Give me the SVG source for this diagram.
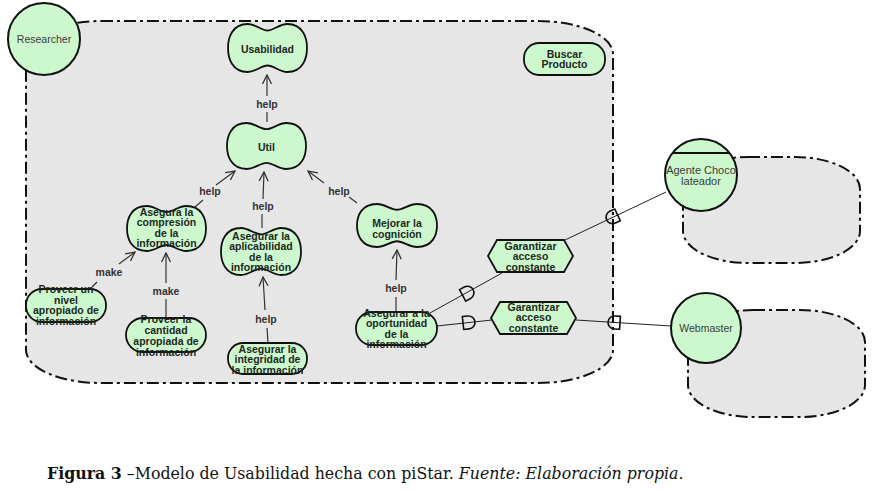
<svg xmlns="http://www.w3.org/2000/svg" xmlns:xlink="http://www.w3.org/1999/xlink" width="878" height="491" viewBox="0 0 878 491">
<style>
.bnd{fill:#e6e6e6;stroke:#111;stroke-width:2;stroke-dasharray:12 4 3 4}
.node{fill:#cdf8cd;stroke:#111;stroke-width:1.8}
.actor{fill:#cdf8cd;stroke:#111;stroke-width:2}
.t{font-family:"Liberation Sans",Arial,sans-serif;font-size:10.5px;font-weight:bold;fill:#1e261e;text-anchor:middle}
.at{font-family:"Liberation Sans",Arial,sans-serif;font-size:10.5px;fill:#3a3a3a;text-anchor:middle}
.lbl{font-family:"Liberation Sans",Arial,sans-serif;font-size:10.5px;font-weight:bold;fill:#333;text-anchor:middle}
.ln{fill:none;stroke:#333;stroke-width:1.2}
.dl{fill:none;stroke:#222;stroke-width:1}
.dm{fill:none;stroke:#111;stroke-width:1.6}
.cap{font-family:"DejaVu Serif","Liberation Serif",serif;font-size:15.8px;fill:#111}
</style>
<defs>
<marker id="arr" viewBox="0 0 12 12" refX="11" refY="6" markerWidth="12" markerHeight="12" markerUnits="userSpaceOnUse" orient="auto">
<path d="M2,1.5 L11,6 L2,10.5" fill="none" stroke="#333" stroke-width="1.3"/>
</marker>
<path id="dep" d="M-5,-6.5 H0.5 A6.5,6.5 0 0 1 0.5,6.5 H-5 Z"/>
</defs>
<rect width="878" height="491" fill="#fff"/>

<g id="boundaries">
<rect class="bnd" x="26" y="21" width="587" height="362" rx="75" ry="33"/>
<rect class="bnd" x="683" y="157" width="177" height="106" rx="65" ry="32"/>
<rect class="bnd" x="688" y="310" width="177" height="107" rx="65" ry="32"/>
</g>

<g id="connectors">
<line class="ln" x1="267" y1="122" x2="267" y2="112"/>
<line class="ln" x1="267" y1="96" x2="267" y2="75" marker-end="url(#arr)"/>
<text class="lbl" x="267" y="108">help</text>

<line class="ln" x1="195" y1="207" x2="203" y2="200"/>
<line class="ln" x1="216" y1="185" x2="235" y2="171" marker-end="url(#arr)"/>
<text class="lbl" x="210" y="195">help</text>

<line class="ln" x1="262" y1="228" x2="262" y2="214"/>
<line class="ln" x1="263" y1="199" x2="264" y2="172" marker-end="url(#arr)"/>
<text class="lbl" x="263" y="210">help</text>

<line class="ln" x1="357" y1="203" x2="349" y2="197"/>
<line class="ln" x1="324" y1="183" x2="308" y2="171" marker-end="url(#arr)"/>
<text class="lbl" x="339" y="195">help</text>

<line class="ln" x1="92" y1="287" x2="97" y2="282"/>
<line class="ln" x1="119" y1="264" x2="135" y2="252" marker-end="url(#arr)"/>
<text class="lbl" x="109" y="276">make</text>

<line class="ln" x1="166" y1="318" x2="166" y2="299"/>
<line class="ln" x1="166" y1="283" x2="166" y2="253" marker-end="url(#arr)"/>
<text class="lbl" x="166" y="295">make</text>

<line class="ln" x1="268" y1="343" x2="267" y2="328"/>
<line class="ln" x1="265" y1="310" x2="263" y2="277" marker-end="url(#arr)"/>
<text class="lbl" x="266" y="323">help</text>

<line class="ln" x1="396" y1="312" x2="396" y2="297"/>
<line class="ln" x1="396" y1="280" x2="397" y2="250" marker-end="url(#arr)"/>
<text class="lbl" x="396" y="292">help</text>

<line class="dl" x1="430" y1="313" x2="502" y2="273"/>
<use xlink:href="#dep" class="dm" transform="translate(467,293) rotate(-28.4)"/>
<line class="dl" x1="565" y1="240" x2="666" y2="192"/>
<use xlink:href="#dep" class="dm" transform="translate(613,217) rotate(154.6)"/>
<line class="dl" x1="437" y1="326" x2="492" y2="320"/>
<use xlink:href="#dep" class="dm" transform="translate(468,322.5) rotate(-6)"/>
<line class="dl" x1="576" y1="320" x2="671" y2="326"/>
<use xlink:href="#dep" class="dm" transform="translate(615,322.5) rotate(183.6)"/>
</g>

<g id="researcher">
<circle class="actor" cx="44" cy="39" r="36"/>
<text class="at" x="44" y="42.5">Researcher</text>
</g>

<g id="usabilidad">
<path class="node" d="M247.75,24 C255.65,24 261.18,30.5 267.5,30.5 C273.82,30.5 279.35,24 287.25,24 C303.05,24 307,38 307,48 C307,58 303.05,72 287.25,72 C279.35,72 273.82,65.5 267.5,65.5 C261.18,65.5 255.65,72 247.75,72 C231.95,72 228,58 228,48 C228,38 231.95,24 247.75,24 Z"/>
<text class="t" x="267.5" y="52.5">Usabilidad</text>
</g>

<g id="util">
<path class="node" d="M246.75,123 C254.65,123 260.18,129.2 266.5,129.2 C272.82,129.2 278.35,123 286.25,123 C302.05,123 306,136.4 306,146 C306,155.6 302.05,169 286.25,169 C278.35,169 272.82,162.8 266.5,162.8 C260.18,162.8 254.65,169 246.75,169 C230.95,169 227,155.6 227,146 C227,136.4 230.95,123 246.75,123 Z"/>
<text class="t" x="266.5" y="150.5">Util</text>
</g>

<g id="buscar-producto">
<rect class="node" x="524" y="43" width="81" height="32" rx="15" ry="15"/>
<text class="t" x="564.5" y="57.5">Buscar</text>
<text class="t" x="564.5" y="68">Producto</text>
</g>

<g id="asegura-compresion">
<path class="node" d="M146.75,206 C154.65,206 160.18,212 166.5,212 C172.82,212 178.35,206 186.25,206 C202.05,206 206,219.1 206,228.5 C206,237.9 202.05,251 186.25,251 C178.35,251 172.82,245 166.5,245 C160.18,245 154.65,251 146.75,251 C130.95,251 127,237.9 127,228.5 C127,219.1 130.95,206 146.75,206 Z"/>
<text class="t" x="166.5" y="215.5">Asegura la</text>
<text class="t" x="166.5" y="226">compresión</text>
<text class="t" x="166.5" y="236.5">de la</text>
<text class="t" x="166.5" y="247">información</text>
</g>

<g id="asegurar-aplicabilidad">
<path class="node" d="M241,228 C249,228 254.6,234.35 261,234.35 C267.4,234.35 273,228 281,228 C297,228 301,241.7 301,251.5 C301,261.3 297,275 281,275 C273,275 267.4,268.65 261,268.65 C254.6,268.65 249,275 241,275 C225,275 221,261.3 221,251.5 C221,241.7 225,228 241,228 Z"/>
<text class="t" x="261" y="239.5">Asegurar la</text>
<text class="t" x="261" y="250">aplicabilidad</text>
<text class="t" x="261" y="260.5">de la</text>
<text class="t" x="261" y="271">información</text>
</g>

<g id="mejorar-cognicion">
<path class="node" d="M377,204 C385,204 390.6,209.75 397,209.75 C403.4,209.75 409,204 417,204 C433,204 437,216.5 437,225.5 C437,234.5 433,247 417,247 C409,247 403.4,241.25 397,241.25 C390.6,241.25 385,247 377,247 C361,247 357,234.5 357,225.5 C357,216.5 361,204 377,204 Z"/>
<text class="t" x="397" y="227">Mejorar la</text>
<text class="t" x="397" y="237.5">cognición</text>
</g>

<g id="proveer-nivel">
<rect class="node" x="26" y="289" width="80" height="33" rx="16" ry="16"/>
<text class="t" x="66" y="293.3">Proveer un</text>
<text class="t" x="66" y="303.8">nivel</text>
<text class="t" x="66" y="314.3">apropiado de</text>
<text class="t" x="66" y="324.8">información</text>
</g>

<g id="proveer-cantidad">
<rect class="node" x="126" y="318" width="80" height="34" rx="17" ry="17"/>
<text class="t" x="166" y="322.5">Proveer la</text>
<text class="t" x="166" y="333.5">cantidad</text>
<text class="t" x="166" y="344.5">apropiada de</text>
<text class="t" x="166" y="355.5">información</text>
</g>

<g id="asegurar-integridad">
<rect class="node" x="228" y="343" width="79" height="31" rx="15" ry="15"/>
<text class="t" x="267.5" y="352.5">Asegurar la</text>
<text class="t" x="267.5" y="363">integridad de</text>
<text class="t" x="267.5" y="373.5">la información</text>
</g>

<g id="asegurar-oportunidad">
<rect class="node" x="356" y="312" width="81" height="33" rx="16" ry="16"/>
<text class="t" x="396.5" y="316.5">Asegurar a la</text>
<text class="t" x="396.5" y="327">oportunidad</text>
<text class="t" x="396.5" y="337.5">de la</text>
<text class="t" x="396.5" y="348">información</text>
</g>

<g id="garantizar-1">
<polygon class="node" points="488,256 497,240 564,240 573,256 564,272 497,272"/>
<text class="t" x="530.5" y="249.5">Garantizar</text>
<text class="t" x="530.5" y="260">acceso</text>
<text class="t" x="530.5" y="270.5">constante</text>
</g>

<g id="garantizar-2">
<polygon class="node" points="491,318 500,302 567,302 576,318 567,334 500,334"/>
<text class="t" x="533.5" y="310.5">Garantizar</text>
<text class="t" x="533.5" y="321">acceso</text>
<text class="t" x="533.5" y="331.5">constante</text>
</g>

<g id="agente-chocolateador">
<circle class="actor" cx="701" cy="175" r="36"/>
<line x1="672.5" y1="153" x2="729.5" y2="153" stroke="#111" stroke-width="2"/>
<text class="at" x="701" y="173.5" style="font-size:11px">Agente Choco</text>
<text class="at" x="701" y="184.5" style="font-size:11px">lateador</text>
</g>

<g id="webmaster">
<circle class="actor" cx="706" cy="328" r="35"/>
<text class="at" x="706" y="331.5">Webmaster</text>
</g>

<text class="cap" x="47" y="479"><tspan font-weight="bold">Figura 3</tspan><tspan> –Modelo de Usabilidad hecha con piStar. </tspan><tspan font-style="italic">Fuente: Elaboración propia.</tspan></text>
</svg>
